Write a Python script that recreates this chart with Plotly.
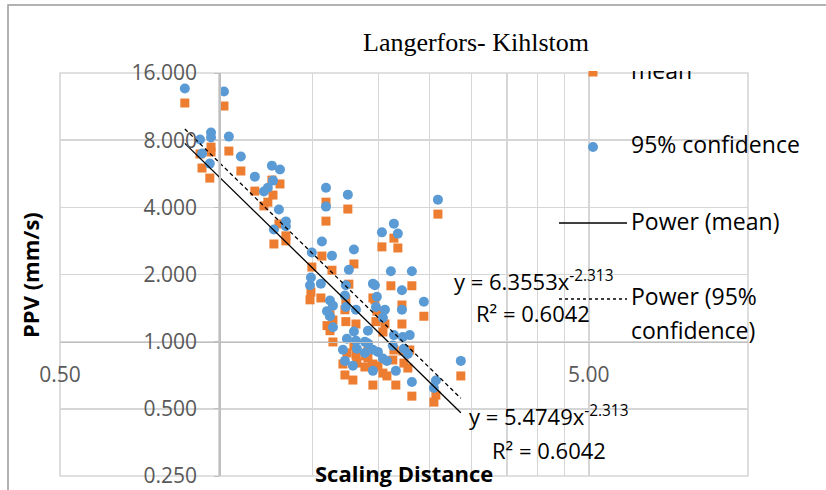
import numpy as np
import plotly.graph_objects as go

W, H = 826, 490

# ---------------- data ----------------
scaling_distance = [0.861, 1.021, 0.920, 0.965, 0.965, 0.928, 0.960, 1.043, 1.099, 1.168,
                    1.258, 1.303, 1.264, 1.236, 1.215, 1.297, 1.337, 1.337, 1.269, 1.592,
                    1.592, 1.751, 2.031, 2.140, 2.177, 1.564, 1.798, 1.497, 1.634, 1.759,
                    2.592, 2.112, 2.314, 1.970, 2.216, 1.491, 1.485, 1.557, 1.736, 1.729,
                    1.599, 1.641, 1.620, 1.641, 1.736, 1.814, 1.744, 1.798, 1.814, 1.714,
                    1.821, 1.729, 1.790, 1.911, 1.886, 1.953, 1.953, 1.987, 1.979, 2.058,
                    2.216, 2.438, 2.040, 2.140, 2.225, 2.293, 2.130, 2.235, 2.274, 1.996,
                    2.040, 2.076, 2.158, 2.314, 2.569, 2.547, 2.864, 1.911, 1.886, 1.620,
                    1.953]

ppv_mean = [11.74, 11.38, 6.94, 7.45, 7.08, 6.00, 5.41, 7.15, 5.82, 4.73,
            5.30, 5.09, 4.54, 4.22, 4.06, 3.37, 2.98, 2.83, 2.74, 4.22,
            3.47, 3.93, 2.66, 2.91, 2.63, 2.42, 2.23, 2.16, 2.09, 1.81,
            3.73, 1.78, 1.78, 1.54, 1.46, 1.67, 1.54, 1.57, 1.54, 1.39,
            1.18, 1.25, 1.12, 0.997, 1.23, 1.20, 0.89, 0.956, 0.871, 0.794,
            0.802, 0.709, 0.673, 0.966, 0.863, 0.794, 0.639, 1.37, 1.23, 1.20,
            1.20, 1.30, 1.105, 0.918, 0.908, 0.918, 0.828, 0.802, 0.762, 0.778,
            0.723, 0.702, 0.639, 0.570, 0.576, 0.536, 0.702, 0.845, 0.770, 1.32,
            1.57]

ppv_95 = [13.63, 13.21, 8.06, 8.65, 8.22, 6.97, 6.28, 8.30, 6.76, 5.49,
          6.15, 5.91, 5.27, 4.90, 4.71, 3.91, 3.46, 3.29, 3.18, 4.90,
          4.03, 4.56, 3.09, 3.38, 3.05, 2.81, 2.59, 2.51, 2.43, 2.10,
          4.33, 2.07, 2.07, 1.79, 1.70, 1.94, 1.79, 1.82, 1.79, 1.61,
          1.37, 1.45, 1.30, 1.16, 1.43, 1.39, 1.03, 1.11, 1.01, 0.92,
          0.93, 0.82, 0.78, 1.12, 1.00, 0.92, 0.74, 1.59, 1.43, 1.39,
          1.39, 1.51, 1.28, 1.07, 1.05, 1.07, 0.96, 0.93, 0.88, 0.90,
          0.84, 0.82, 0.74, 0.66, 0.67, 0.62, 0.82, 0.98, 0.89, 1.53,
          1.82]

# fitted power trendlines (from the chart)
coef_mean, coef_95, exponent = 5.4749, 6.3553, -2.313
eq_mean = ["y = 5.4749x<sup>-2.313</sup>", "R² = 0.6042"]
eq_95 = ["y = 6.3553x<sup>-2.313</sup>", "R² = 0.6042"]

# axes ticks
x_grid_vals = [0.5, 1.0, 1.5, 2.0, 2.5, 3.0, 3.5, 4.0, 4.5, 5.0, 10.0]
x_grid_text = ["0.50", "", "", "", "", "", "", "", "", "5.00", ""]
y_tick_vals = [0.25, 0.5, 1, 2, 4, 8, 16]
y_tick_text = ["0.250", "0.500", "1.000", "2.000", "4.000", "8.000", "16.000"]

title_text = "Langerfors- Kihlstom"
x_title = "Scaling Distance"
y_title = "PPV (mm/s)"
legend_names = ["mean", "95% confidence", "Power (mean)", "Power (95%", "confidence)"]

# ---------------- styles ----------------
ORANGE = "#ED7D31"
BLUE = "#5B9BD5"
GRID = "#D6D6D6"
TICKC = "#595959"
FONT = "Open Sans"

# plot area in pixels
PL, PR, PT, PB = 60, 748, 73, 476


def fx(px):
    return px / W


def fy(py):
    return 1 - py / H


fig = go.Figure()

fig.add_trace(go.Scatter(x=scaling_distance, y=ppv_mean, mode="markers", name="mean",
                         marker=dict(symbol="square", size=9, color=ORANGE)))
fig.add_trace(go.Scatter(x=scaling_distance, y=ppv_95, mode="markers", name="95% confidence",
                         marker=dict(symbol="circle", size=10, color=BLUE)))

xt = np.geomspace(min(scaling_distance), max(scaling_distance), 30)
fig.add_trace(go.Scatter(x=xt, y=coef_mean * xt ** exponent, mode="lines",
                         line=dict(color="black", width=1.3)))
fig.add_trace(go.Scatter(x=xt, y=coef_95 * xt ** exponent, mode="lines",
                         line=dict(color="black", width=1.3, dash="4px,3px")))

# ---- legend drawn in its own (clipped) subplot, coordinates in pixels ----
LX_M, LX_T = 593, 631
fig.add_trace(go.Scatter(x=[LX_M], y=[72], mode="markers", xaxis="x2", yaxis="y2",
                         marker=dict(symbol="square", size=9, color=ORANGE), cliponaxis=True))
fig.add_trace(go.Scatter(x=[LX_M], y=[147], mode="markers", xaxis="x2", yaxis="y2",
                         marker=dict(symbol="circle", size=10, color=BLUE), cliponaxis=True))
fig.add_trace(go.Scatter(x=[559, 627], y=[223, 223], mode="lines", xaxis="x2", yaxis="y2",
                         line=dict(color="black", width=1.3)))
fig.add_trace(go.Scatter(x=[559, 627], y=[299, 299], mode="lines", xaxis="x2", yaxis="y2",
                         line=dict(color="black", width=1.3, dash="3px,3px")))
fig.add_trace(go.Scatter(x=[LX_T] * 5, y=[73, 147, 224, 299, 333], mode="text",
                         text=legend_names, textposition="middle right",
                         textfont=dict(family=FONT, size=23, color="black"),
                         xaxis="x2", yaxis="y2", cliponaxis=True))

ann = []
ann.append(dict(text=title_text, x=fx(476), y=fy(42), xref="paper", yref="paper",
                showarrow=False, xanchor="center", yanchor="middle",
                font=dict(family="Liberation Serif", size=26, color="black")))
ann.append(dict(text="<b>%s</b>" % x_title, x=fx(404), y=fy(473), xref="paper", yref="paper",
                showarrow=False, xanchor="center", yanchor="middle",
                font=dict(family=FONT, size=22, color="black")))
ann.append(dict(text="<b>%s</b>" % y_title, x=fx(30), y=fy(275), xref="paper", yref="paper",
                showarrow=False, xanchor="center", yanchor="middle", textangle=-90,
                font=dict(family=FONT, size=22, color="black")))
for txt, cx, cy in [(eq_95[0], 533, 280), (eq_95[1], 533, 313),
                    (eq_mean[0], 548, 415), (eq_mean[1], 549, 450)]:
    ann.append(dict(text=txt, x=fx(cx), y=fy(cy), xref="paper", yref="paper",
                    showarrow=False, xanchor="center", yanchor="middle",
                    font=dict(family=FONT, size=22, color="black")))

shapes = [
    # plot area border
    dict(type="rect", xref="paper", yref="paper", x0=fx(PL), x1=fx(PR), y0=fy(PB), y1=fy(PT),
         line=dict(color=GRID, width=1.6), layer="below"),
    # chart area border (cropped)
    dict(type="rect", xref="paper", yref="paper", x0=fx(8), x1=fx(840), y0=fy(500), y1=fy(5),
         line=dict(color="#9A9A9A", width=1.5)),
]

x_cross_paper = fy(PB - (PB - PT) / 3.0)          # y = 1.0
y_cross_paper = fx(PL + (PR - PL) * np.log10(2) / np.log10(20))  # x = 1.0

fig.update_layout(
    template="none",
    width=W, height=H, margin=dict(l=0, r=0, t=0, b=0, pad=0, autoexpand=False),
    paper_bgcolor="white", plot_bgcolor="rgba(0,0,0,0)", showlegend=False,
    annotations=ann, shapes=shapes, hovermode=False,
    xaxis=dict(type="log", range=[np.log10(0.5), 1.0], domain=[fx(PL), fx(PR)],
               anchor="free", position=x_cross_paper, automargin=False,
               tickmode="array", tickvals=x_grid_vals, ticktext=x_grid_text,
               showgrid=True, gridcolor=GRID, gridwidth=1.6,
               showline=True, linecolor="#BFBFBF", linewidth=1.5, ticks="",
               tickfont=dict(family=FONT, size=21, color=TICKC),
               ticklabelstandoff=14, zeroline=False),
    yaxis=dict(type="log", range=[np.log10(0.25), np.log10(16)], domain=[fy(PB), fy(PT)],
               anchor="free", position=y_cross_paper, automargin=False,
               tickmode="array", tickvals=y_tick_vals, ticktext=y_tick_text,
               showgrid=True, gridcolor=GRID, gridwidth=1.6,
               showline=True, linecolor="#BFBFBF", linewidth=1.5,
               ticks="outside", ticklen=5, tickcolor="#BFBFBF",
               tickfont=dict(family=FONT, size=21, color=TICKC),
               ticklabelstandoff=13, zeroline=False),
    xaxis2=dict(domain=[fx(555), 1.0], range=[555, 826], visible=False, anchor="y2",
                fixedrange=True, automargin=False),
    yaxis2=dict(domain=[fy(PB), fy(71)], range=[PB, 71], visible=False, anchor="x2",
                fixedrange=True, automargin=False),
)

fig.write_html("out.html", config={"displayModeBar": False, "staticPlot": True},
               post_script="document.body.style.margin='0px';document.body.style.overflow='hidden';")
